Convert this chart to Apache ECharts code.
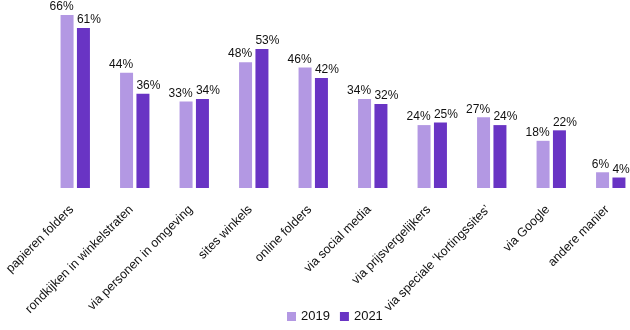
<!DOCTYPE html>
<html>
<head>
<meta charset="utf-8">
<script src="https://cdn.jsdelivr.net/npm/echarts@6/dist/echarts.min.js"></script>
<style>html,body{margin:0;padding:0;background:#fff}#c{width:630px;height:330px}</style>
</head>
<body>
<div id="c"></div>
<script>
var categories = ['papieren folders','rondkijken in winkelstraten','via personen in omgeving','sites winkels','online folders','via social media','via prijsvergelijkers','via speciale \u2018kortingssites\u2019','via Google','andere manier'];
var seriesNames = ['2019','2021'];
var values2019 = [66,44,33,48,46,34,24,27,18,6];
var values2021 = [61,36,34,53,42,32,25,24,22,4];

var chart = echarts.init(document.getElementById('c'));
var font = 'Liberation Sans, Arial, Helvetica, sans-serif';
function lbl(pos, align){ return {show:true, position:pos, align:align, verticalAlign:'bottom', offset:[0,-2], formatter:'{c}%', color:'#111', fontSize:12, fontFamily:font}; }
chart.setOption({
  animation:false,
  grid:{left:45.5, width:595, top:15, bottom:142, containLabel:false, outerBoundsMode:'none'},
  legend:{data:seriesNames, left:282, bottom:2, itemWidth:9, itemHeight:9, itemGap:10, icon:'rect',
    textStyle:{fontSize:13, color:'#111', fontFamily:font}},
  xAxis:{type:'category', data:categories, axisLine:{show:false}, axisTick:{show:false},
    axisLabel:{rotate:45, margin:16, padding:[0,5,0,0], fontSize:12.5, color:'#111', fontFamily:font, interval:0}},
  yAxis:{type:'value', min:0, max:66, show:false, splitLine:{show:false}},
  series:[
    {name:seriesNames[0], type:'bar', data:values2019, barWidth:13, barGap:'26%', itemStyle:{color:'#b398e3'}, label:lbl(['100%',0],'right')},
    {name:seriesNames[1], type:'bar', data:values2021, barWidth:13, itemStyle:{color:'#6934c4'}, label:lbl([0,0],'left')}
  ]
});
</script>
</body>
</html>
